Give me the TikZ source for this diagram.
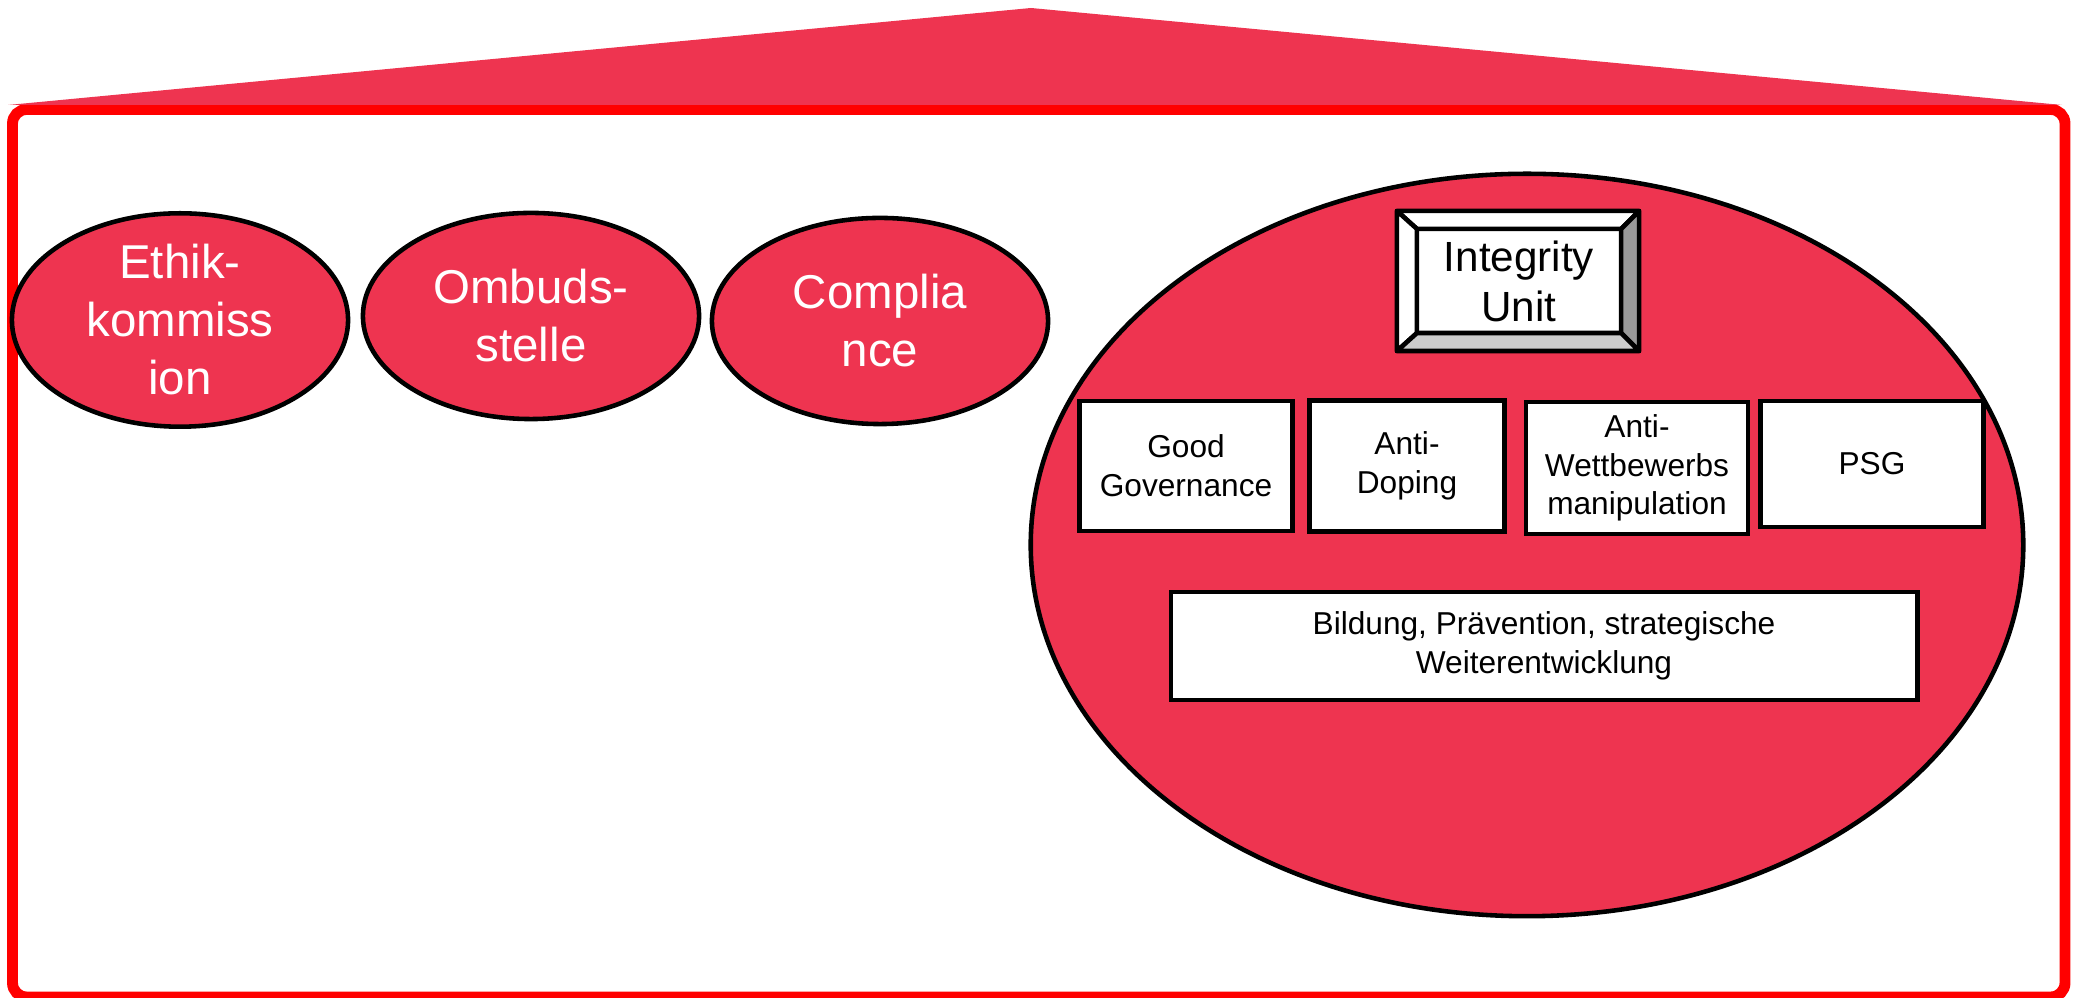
\documentclass[tikz,border=0pt]{standalone}
\usepackage{fontspec}
\setmainfont{Liberation Sans}
\usepackage{xcolor}
\usetikzlibrary{positioning,shapes.geometric}

\definecolor{integred}{RGB}{238,52,80}

\begin{document}
\begin{tikzpicture}[
    x=0.01cm, y=-0.01cm,
    font=\fontsize{9}{11}\selectfont,
    unit/.style={
        ellipse, draw=black, line width=1.3pt,
        fill=integred, text=white,
        minimum width=3.36cm, minimum height=2.06cm,
        align=center, inner sep=0pt,
        font=\fontsize{13.5}{16.5}\selectfont
    },
    area/.style={
        rectangle, draw=black, line width=1.3pt, fill=white,
        align=center, outer sep=0pt, inner sep=0pt
    },
    bevel/.style={draw=black, line width=1.3pt, line join=round}
]
\useasboundingbox (0,0) rectangle (2081,998);

% house
\draw[red, line width=3.1pt, rounded corners=4pt] (12.5,109.5) rectangle (2065,997);
\coordinate (roofl) at (8,105);
\coordinate (rooft) at (1031,8);
\coordinate (roofr) at (2062,105);
\fill[integred] (roofl) -- (rooft) -- (roofr) -- cycle;

% left units
\node[unit] (ethik) at (180,320) {Ethik-\\kommiss\\ion};
\node[unit] (ombuds) at (531,316) {Ombuds-\\stelle};
\node[unit] (compl) at (880,321) {Complia\\nce};

% integrity unit
\node[ellipse, draw=black, line width=1.3pt, fill=integred,
      minimum width=9.92cm, minimum height=7.42cm] (iuarea) at (1527,545) {};

\node[area, minimum width=2.42cm, minimum height=1.40cm] (iuouter) at (1518,281) {};
\node[area, minimum width=2.04cm, minimum height=1.04cm,
      font=\fontsize{12}{14.2}\selectfont] (iu) at (1519,281) {Integrity\\Unit};
\filldraw[bevel, fill=white] (iuouter.north west) -- (iuouter.north east) -- (iu.north east) -- (iu.north west) -- cycle;
\filldraw[bevel, fill=white] (iuouter.north west) -- (iu.north west) -- (iu.south west) -- (iuouter.south west) -- cycle;
\filldraw[bevel, fill=black!40] (iuouter.north east) -- (iuouter.south east) -- (iu.south east) -- (iu.north east) -- cycle;
\filldraw[bevel, fill=black!20] (iuouter.south west) -- (iu.south west) -- (iu.south east) -- (iuouter.south east) -- cycle;

\node[area, minimum width=2.13cm, minimum height=1.30cm] (gov) at (1186,466) {Good\\Governance};
\node[area, minimum width=1.95cm, minimum height=1.31cm] (doping) at (1407,466) {Anti-\\Doping};
\node[area, minimum width=2.22cm, minimum height=1.32cm] (manip) at (1637,468) {Anti-\\Wettbewerbs\\manipulation};
\node[area, minimum width=2.23cm, minimum height=1.26cm] (psg) at (1872,464) {PSG};

\node[area, minimum width=7.46cm, minimum height=1.08cm] (bildung) at (1544,646) {Bildung, Prävention, strategische\\Weiterentwicklung};

\end{tikzpicture}
\end{document}
